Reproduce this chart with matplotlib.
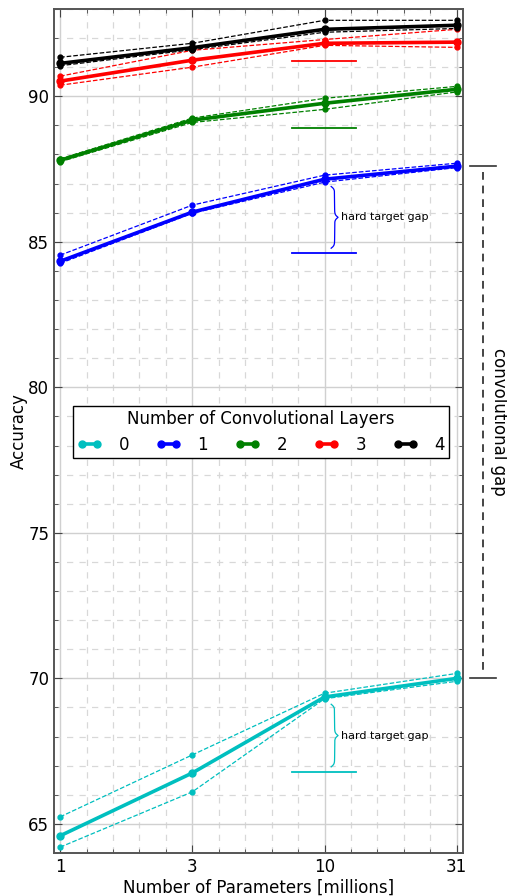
import numpy as np
import matplotlib.pyplot as plt
import matplotlib.transforms as mtransforms
from matplotlib.ticker import MultipleLocator

# x positions are log10(parameters in millions)
log_params = [0.0, 0.5, 1.0, 1.5]
param_labels = ['1', '3', '10', '31']

layers = [0, 1, 2, 3, 4]
colors = ['c', 'b', 'g', 'r', 'k']

acc_mean = [
    [64.59, 66.75, 69.36, 70.00],
    [84.33, 86.02, 87.15, 87.60],
    [87.80, 89.18, 89.76, 90.24],
    [90.52, 91.24, 91.82, 91.86],
    [91.13, 91.67, 92.30, 92.44],
]
acc_upper = [
    [65.24, 67.37, 69.49, 70.17],
    [84.54, 86.26, 87.29, 87.70],
    [87.85, 89.25, 89.93, 90.34],
    [90.69, 91.58, 91.95, 92.30],
    [91.34, 91.82, 92.61, 92.61],
]
acc_lower = [
    [64.20, 66.10, 69.30, 69.90],
    [84.26, 85.98, 87.05, 87.55],
    [87.75, 89.10, 89.55, 90.15],
    [90.38, 91.00, 91.75, 91.68],
    [91.05, 91.60, 92.20, 92.33],
]

# hard target accuracy per layer count (None = no line)
hard_target = [66.78, 84.60, 88.90, 91.20, None]
target_span = [0.875, 1.12]


def brace(ax, x, y0, y1, width, color, beta=45.0):
    t = np.linspace(0, 0.5, 200)
    h = (1 / (1 + np.exp(-beta * t)) - 0.5) + 1 / (1 + np.exp(-beta * (t - 0.5)))
    h = np.concatenate([h, h[-2::-1]])
    ys = np.linspace(y0, y1, len(h))
    ax.plot(x + width * h, ys, color=color, lw=0.9)


plt.rcParams['font.family'] = ['DejaVu Sans']
fig = plt.figure(figsize=(5.07, 8.96), dpi=100)
ax = fig.add_axes([0.1065, 0.048, 0.8065, 0.942])

for i, n in enumerate(layers):
    c = colors[i]
    ax.plot(log_params, acc_upper[i], '--', color=c, lw=0.9, marker='o', ms=3.5)
    ax.plot(log_params, acc_lower[i], '--', color=c, lw=0.9, marker='o', ms=3.5)
    ax.plot(log_params, acc_mean[i], '-', color=c, lw=2.6, marker='o', ms=5,
            label=str(n))
    if hard_target[i] is not None:
        ax.plot(target_span, [hard_target[i]] * 2, '-', color=c, lw=1.3)

# hard target gap braces for 0 and 1 layers
for i in [0, 1]:
    top = acc_mean[i][2] - 0.25
    bot = hard_target[i] + 0.18
    brace(ax, 1.025, bot, top, 0.026, colors[i])
    ax.text(1.062, (top + bot) / 2, 'hard target gap', fontsize=8,
            va='center', ha='left')

# convolutional gap outside the axes
trans = mtransforms.blended_transform_factory(ax.transAxes, ax.transData)
g_top = acc_mean[1][-1]
g_bot = acc_mean[0][-1]
for yv in [g_top, g_bot]:
    ax.plot([1.017, 1.081], [yv, yv], color='#333333', lw=1.2,
            transform=trans, clip_on=False)
ax.plot([1.049, 1.049], [g_top - 0.2, g_bot + 0.2], color='#444444', lw=1.4,
        ls=(0, (4, 3)), transform=trans, clip_on=False)
ax.text(1.088, (g_top + g_bot) / 2, 'convolutional gap', rotation=-90,
        fontsize=12, va='center', ha='center', transform=trans)

ax.set_xlim(-0.023, 1.523)
ax.set_ylim(64, 93)
ax.set_xticks(log_params)
ax.set_xticklabels(param_labels)
ax.xaxis.set_minor_locator(MultipleLocator(0.1))
ax.yaxis.set_major_locator(MultipleLocator(5))
ax.yaxis.set_minor_locator(MultipleLocator(1))
ax.tick_params(which='both', direction='in', top=True, right=True,
               labelsize=12, color='#444444')
ax.tick_params(which='major', length=6)
ax.tick_params(which='minor', length=3)
ax.grid(which='major', color='#d0d0d0', lw=1.0, ls='-')
ax.grid(which='minor', color='#d8d8d8', lw=0.9, ls=(0, (5, 5)))
ax.set_axisbelow(True)
for s in ax.spines.values():
    s.set_color('#555555')
    s.set_linewidth(1.4)

ax.set_xlabel('Number of Parameters [millions]', fontsize=12, labelpad=2)
ax.set_ylabel('Accuracy', fontsize=12, labelpad=0)

leg = ax.legend(title='Number of Convolutional Layers', ncol=5, loc='upper left',
                bbox_to_anchor=(0.046, 0.53), borderaxespad=0,
                fontsize=12, title_fontsize=12,
                numpoints=2, handlelength=1.5, columnspacing=1.6,
                fancybox=False, framealpha=1, borderpad=0.25,
                handletextpad=1.0)
leg.get_frame().set_edgecolor('black')
leg.get_frame().set_linewidth(1.0)

fig.savefig('out.png', dpi=100)
